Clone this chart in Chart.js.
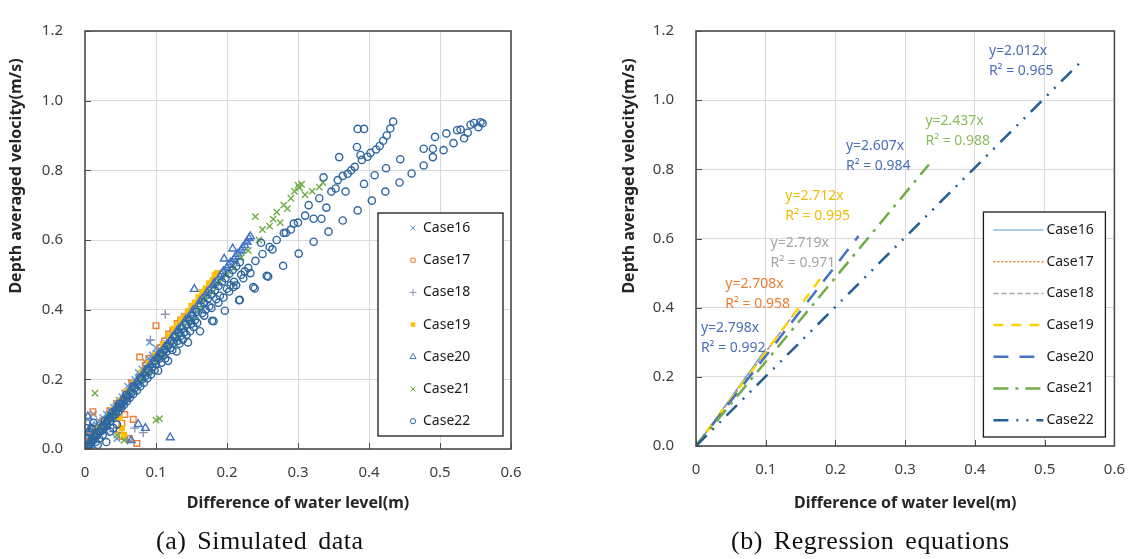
<!DOCTYPE html>
<html>
<head>
<meta charset="utf-8">
<script src="https://cdn.jsdelivr.net/npm/chart.js@4/dist/chart.umd.min.js"></script>
<style>
html, body { margin: 0; padding: 0; background: #fff; }
#wrap { position: relative; width: 1140px; height: 559px; overflow: hidden; }
.caja { position: absolute; top: 0; width: 570px; height: 559px; }
#cajaA { left: 0; }
#cajaB { left: 570px; }
.cap { position: absolute; top: 526px; font-family: "Liberation Serif", "DejaVu Serif", serif; font-size: 26px;
       letter-spacing: 0.5px; word-spacing: 4px; color: #111; white-space: nowrap; line-height: 30px; }
#capA { left: 156px; }
#capB { left: 731px; }
</style>
</head>
<body>
<div id="wrap">
  <div class="caja" id="cajaA"><canvas id="graficoA"></canvas></div>
  <div class="caja" id="cajaB"><canvas id="graficoB"></canvas></div>
  <div class="cap" id="capA">(a) Simulated data</div>
  <div class="cap" id="capB">(b) Regression equations</div>
</div>
<script>
'use strict';

// Series / ejes
const caseNames = ['Case16', 'Case17', 'Case18', 'Case19', 'Case20', 'Case21', 'Case22'];
const xTicks = [0, 0.1, 0.2, 0.3, 0.4, 0.5, 0.6];
const yTicks = [0.0, 0.2, 0.4, 0.6, 0.8, 1.0, 1.2];
const xTitle = 'Difference of water level(m)';
const yTitle = 'Depth averaged velocity(m/s)';

// (a) Simulated data  [x, y]
const case16 = [[0.002,0.01],[0.004,0.03],[0.006,0.02],[0.008,0.05],[0.01,0.03],[0.012,0.06],[0.014,0.04],[0.016,0.07],
    [0.018,0.05],[0.02,0.08],[0.022,0.06],[0.025,0.09],[0.028,0.07],[0.03,0.1],[0.033,0.09],[0.036,0.11],[0.04,0.12],
    [0.044,0.13],[0.048,0.14],[0.052,0.15],[0.056,0.16],[0.06,0.18],[0.065,0.19],[0.07,0.2],[0.075,0.22],[0.08,0.23],
    [0.085,0.25],[0.09,0.26],[0.091,0.306],[0.095,0.27],[0.1,0.29],[0.004,0.085],[0.012,0.1],[0.03,0.05],[0.045,0.03],
    [0.015,0.055],[0.024,0.075],[0.034,0.1],[0.042,0.115],[0.05,0.135],[0.058,0.155],[0.067,0.175],[0.078,0.205],
    [0.088,0.23],[0.105,0.28],[0.11,0.3],[0.12,0.32],[0.13,0.345],[0.14,0.37],[0.15,0.395],[0.16,0.42],[0.17,0.44],
    [0.18,0.465],[0.19,0.49],[0.2,0.515],[0.21,0.54],[0.22,0.565],[0.23,0.595],[0.005,0.05],[0.01,0.07],[0.003,0.04]];
const case17 = [[0.005,0.02],[0.01,0.05],[0.011,0.107],[0.018,0.06],[0.025,0.08],[0.035,0.11],[0.045,0.13],[0.052,0.074],
    [0.052,0.036],[0.056,0.099],[0.058,0.16],[0.066,0.19],[0.068,0.085],[0.073,0.016],[0.077,0.264],[0.085,0.24],
    [0.09,0.26],[0.1,0.354],[0.105,0.29],[0.112,0.31],[0.118,0.33],[0.124,0.34],[0.13,0.36],[0.135,0.37],[0.14,0.38],
    [0.048,0.055],[0.062,0.03]];
const case18 = [[0.004,0.015],[0.008,0.03],[0.015,0.05],[0.022,0.07],[0.03,0.09],[0.038,0.1],[0.045,0.13],[0.05,0.14],
    [0.058,0.16],[0.065,0.18],[0.072,0.2],[0.08,0.22],[0.088,0.24],[0.092,0.313],[0.096,0.27],[0.103,0.28],[0.11,0.3],
    [0.113,0.387],[0.118,0.32],[0.125,0.34],[0.082,0.047],[0.06,0.025],[0.04,0.05],[0.07,0.06]];
const case19 = [[0.01,0.03],[0.02,0.06],[0.03,0.08],[0.04,0.11],[0.05,0.14],[0.052,0.06],[0.06,0.165],[0.07,0.19],
    [0.08,0.22],[0.09,0.245],[0.1,0.27],[0.11,0.3],[0.118,0.325],[0.125,0.345],[0.13,0.355],[0.135,0.37],[0.14,0.38],
    [0.145,0.395],[0.15,0.41],[0.155,0.42],[0.16,0.435],[0.165,0.45],[0.17,0.46],[0.175,0.475],[0.18,0.485],
    [0.183,0.5],[0.186,0.505],[0.048,0.09],[0.055,0.04]];
const case20 = [[0.004,0.093],[0.005,0.01],[0.01,0.025],[0.015,0.04],[0.02,0.055],[0.025,0.065],[0.03,0.08],[0.035,0.09],
    [0.04,0.105],[0.045,0.12],[0.05,0.13],[0.055,0.145],[0.06,0.155],[0.065,0.17],[0.07,0.185],[0.075,0.071],[0.08,0.21],
    [0.085,0.22],[0.09,0.235],[0.095,0.25],[0.1,0.26],[0.105,0.275],[0.11,0.285],[0.115,0.3],[0.12,0.033],[0.12,0.31],
    [0.125,0.325],[0.13,0.34],[0.135,0.35],[0.14,0.365],[0.145,0.375],[0.15,0.39],[0.154,0.459],[0.155,0.4],[0.16,0.415],
    [0.165,0.43],[0.17,0.44],[0.175,0.455],[0.18,0.47],[0.185,0.48],[0.19,0.495],[0.195,0.51],[0.196,0.546],[0.2,0.52],
    [0.205,0.535],[0.208,0.575],[0.21,0.545],[0.215,0.56],[0.22,0.57],[0.225,0.585],[0.228,0.595],[0.231,0.605],
    [0.233,0.61],[0.085,0.06],[0.065,0.025],
    [0.012,0.035],[0.022,0.062],[0.032,0.088],[0.042,0.114],[0.052,0.14],[0.062,0.165],[0.072,0.19],[0.082,0.216],
    [0.092,0.242],[0.102,0.268],[0.112,0.292],[0.122,0.318],[0.132,0.345],[0.142,0.372],[0.152,0.398],[0.162,0.424],
    [0.172,0.45],[0.182,0.476],[0.192,0.502],[0.202,0.528],[0.212,0.552],[0.222,0.578]];
const case21 = [[0.003,0.01],[0.008,0.02],[0.014,0.16],[0.015,0.04],[0.02,0.05],[0.028,0.07],[0.035,0.09],[0.04,0.1],
    [0.045,0.04],[0.05,0.12],[0.055,0.025],[0.06,0.15],[0.07,0.17],[0.08,0.2],[0.09,0.22],[0.1,0.083],[0.105,0.087],
    [0.1,0.25],[0.11,0.27],[0.12,0.3],[0.13,0.32],[0.14,0.35],[0.15,0.37],[0.16,0.4],[0.17,0.43],[0.18,0.45],[0.19,0.48],
    [0.2,0.5],[0.21,0.52],[0.22,0.55],[0.23,0.57],[0.24,0.667],[0.245,0.6],[0.25,0.63],[0.26,0.64],[0.265,0.66],
    [0.27,0.68],[0.275,0.65],[0.28,0.7],[0.285,0.69],[0.29,0.72],[0.295,0.74],[0.3,0.757],[0.302,0.75],[0.305,0.76],
    [0.31,0.73],[0.32,0.74],[0.33,0.752],[0.335,0.765]];
const case22 = [[0.002,0.005],[0.005,0.012],[0.008,0.02],[0.01,0.03],[0.013,0.035],[0.016,0.045],[0.02,0.05],[0.023,0.06],
    [0.026,0.065],[0.03,0.075],[0.033,0.085],[0.036,0.09],[0.04,0.1],[0.044,0.11],[0.048,0.12],[0.052,0.13],[0.056,0.14],
    [0.06,0.15],[0.065,0.16],[0.07,0.175],[0.075,0.185],[0.08,0.2],[0.085,0.21],[0.09,0.225],[0.095,0.235],[0.1,0.245],
    [0.103,0.225],[0.105,0.26],[0.11,0.27],[0.115,0.28],[0.117,0.253],[0.12,0.29],[0.125,0.305],[0.129,0.28],[0.13,0.31],
    [0.135,0.325],[0.14,0.335],[0.145,0.306],[0.15,0.36],[0.155,0.37],[0.162,0.338],[0.165,0.39],[0.17,0.4],[0.175,0.41],
    [0.179,0.368],[0.181,0.367],[0.185,0.43],[0.19,0.44],[0.197,0.397],[0.2,0.46],[0.205,0.47],[0.209,0.465],[0.21,0.48],
    [0.217,0.427],[0.218,0.428],[0.22,0.5],[0.225,0.51],[0.23,0.52],[0.237,0.465],[0.239,0.461],[0.24,0.54],[0.248,0.592],
    [0.25,0.56],[0.256,0.497],[0.258,0.495],[0.26,0.58],[0.264,0.573],[0.27,0.6],[0.279,0.526],[0.28,0.62],[0.283,0.621],
    [0.29,0.63],[0.294,0.647],[0.3,0.65],[0.301,0.561],[0.31,0.67],[0.315,0.7],[0.322,0.595],[0.322,0.661],[0.33,0.72],
    [0.333,0.661],[0.336,0.78],[0.34,0.693],[0.343,0.624],[0.347,0.739],[0.353,0.748],[0.356,0.772],[0.358,0.838],
    [0.363,0.656],[0.363,0.784],[0.367,0.739],[0.37,0.79],[0.375,0.8],[0.38,0.81],[0.383,0.867],[0.384,0.685],
    [0.384,0.919],[0.388,0.844],[0.39,0.83],[0.393,0.919],[0.393,0.761],[0.398,0.839],[0.402,0.85],[0.404,0.713],
    [0.408,0.786],[0.41,0.86],[0.415,0.87],[0.42,0.885],[0.423,0.739],[0.424,0.806],[0.425,0.9],[0.43,0.92],[0.434,0.94],
    [0.443,0.765],[0.444,0.832],[0.46,0.791],[0.477,0.814],[0.477,0.862],[0.49,0.862],[0.49,0.838],[0.493,0.896],
    [0.505,0.858],[0.509,0.906],[0.519,0.878],[0.524,0.915],[0.529,0.917],[0.534,0.892],[0.539,0.908],[0.543,0.931],
    [0.548,0.936],[0.554,0.924],[0.557,0.938],[0.56,0.935],
    [0.004,0.008],[0.007,0.015],[0.011,0.024],[0.015,0.035],[0.018,0.042],[0.022,0.052],[0.027,0.063],[0.031,0.072],
    [0.035,0.08],[0.039,0.092],[0.043,0.1],[0.047,0.108],[0.051,0.118],[0.055,0.127],[0.059,0.137],[0.063,0.147],
    [0.068,0.158],[0.073,0.168],[0.078,0.18],[0.083,0.19],[0.088,0.203],[0.093,0.214],[0.098,0.226],[0.108,0.248],
    [0.113,0.26],[0.123,0.284],[0.133,0.302],[0.138,0.314],[0.143,0.328],[0.148,0.338],[0.153,0.35],[0.158,0.362],
    [0.168,0.383],[0.178,0.405],[0.188,0.42],[0.195,0.435],[0.203,0.452],[0.213,0.47],[0.223,0.49],[0.233,0.505],
    [0.003,0.03],[0.006,0.05],[0.009,0.06],[0.012,0.075],[0.002,0.06],[0.015,0.02],[0.02,0.03],[0.025,0.04],[0.03,0.02],
    [0.035,0.05],[0.04,0.06],[0.045,0.07],[0.008,0.008],[0.018,0.012],
    [0.102,0.262],[0.107,0.272],[0.112,0.285],[0.117,0.296],[0.122,0.31],[0.127,0.322],[0.132,0.334],[0.137,0.346],
    [0.142,0.358],[0.147,0.37],[0.152,0.382],[0.157,0.394],[0.163,0.41],[0.168,0.42],[0.173,0.432],[0.178,0.445],
    [0.183,0.456],[0.188,0.468],[0.193,0.48],[0.198,0.49],[0.203,0.503],[0.208,0.514],[0.213,0.525],[0.218,0.536],
    [0.028,0.08],[0.038,0.105],[0.048,0.13],[0.058,0.155],[0.068,0.18],[0.078,0.205],[0.088,0.23],[0.098,0.252]];
const puntos = [case16, case17, case18, case19, case20, case21, case22];

// (b) Regression equations
const slopes = [2.798, 2.708, 2.719, 2.712, 2.607, 2.437, 2.012];
const rSquared = [0.992, 0.958, 0.971, 0.995, 0.984, 0.988, 0.965];
const lineEndX = [0.1, 0.135, 0.142, 0.182, 0.233, 0.334, 0.554];
const lineEndY = [0.28, 0.366, 0.386, 0.494, 0.607, 0.814, 1.115];
const labelX = [0.007, 0.042, 0.107, 0.128, 0.215, 0.329, 0.42];
const labelY = [0.341, 0.468, 0.586, 0.724, 0.867, 0.941, 1.142];

// estilos
const markerColor = ['#5b9bd5', '#ed7d31', '#8f93b5', '#ffc000', '#4472c4', '#70ad47', '#2e66a0'];
const markerFill = ['rgba(0,0,0,0)', 'rgba(0,0,0,0)', 'rgba(0,0,0,0)', '#ffc000', 'rgba(0,0,0,0)', 'rgba(0,0,0,0)', 'rgba(0,0,0,0)'];
const markerStyle = ['crossRot', 'rect', 'cross', 'rect', 'triangle', 'crossRot', 'circle'];
const markerSize = [4.5, 4, 4.5, 3.5, 4.5, 4.5, 3.6];
const lineColor = ['#5b9bd5', '#ed7d31', '#a5a5a5', '#ffd200', '#4472c4', '#70ad47', '#255e91'];
const lineWidth = [1.2, 1.5, 1.5, 2.5, 2.5, 2.5, 2.5];
const lineDash = [[], [2, 2], [5, 3], [10, 8], [15, 11], [15, 7, 3, 7], [15, 8, 2, 8, 2, 8]];
const labelColor = ['#4a70b8', '#ed7d31', '#a5a5a5', '#f0bc00', '#4a70b8', '#8cbb5e', '#4a70b8'];

const fuente = '"Noto Sans", "DejaVu Sans", sans-serif';
Chart.defaults.font.family = fuente;

// marco del area de trazado, con marcas hacia dentro
const marcoPlugin = {
    id: 'marco',
    afterDatasetsDraw(chart) {
        const { ctx, chartArea: a, scales } = chart;
        ctx.save();
        ctx.strokeStyle = '#4d4d4d';
        ctx.lineWidth = 1;
        ctx.beginPath();
        xTicks.forEach(v => {
            let px = Math.round(scales.x.getPixelForValue(v)) + 0.5;
            ctx.moveTo(px, a.bottom);
            ctx.lineTo(px, a.bottom - 6);
        });
        yTicks.forEach(v => {
            let py = Math.round(scales.y.getPixelForValue(v)) + 0.5;
            ctx.moveTo(a.left, py);
            ctx.lineTo(a.left + 6, py);
        });
        ctx.stroke();
        ctx.lineWidth = 1.6;
        ctx.strokeRect(a.left, a.top, a.right - a.left, a.bottom - a.top);
        ctx.restore();
    }
};

let crearTituloY = (x, y) => ({
    id: 'tituloY',
    afterDraw(chart) {
        const ctx = chart.ctx;
        ctx.save();
        ctx.translate(x, y);
        ctx.rotate(-Math.PI / 2);
        ctx.font = 'bold 16px ' + fuente;
        ctx.fillStyle = '#262626';
        ctx.textAlign = 'center';
        ctx.textBaseline = 'middle';
        ctx.fillText(yTitle, 0, 0);
        ctx.restore();
    }
});

let crearLeyenda = (modo, box) => ({
    id: 'leyenda',
    afterDraw(chart) {
        const { ctx, chartArea: a } = chart;
        let left = a.right - box.right - box.width;
        let top = a.bottom - box.bottom - box.height;
        ctx.save();
        ctx.fillStyle = '#fff';
        ctx.fillRect(left, top, box.width, box.height);
        ctx.strokeStyle = '#1a1a1a';
        ctx.lineWidth = 1.3;
        ctx.strokeRect(left, top, box.width, box.height);
        ctx.font = '14px ' + fuente;
        ctx.textBaseline = 'middle';
        ctx.textAlign = 'left';
        chart.data.datasets.forEach((ds, i) => {
            let y = top + box.first + i * box.step;
            if (modo === 'marker') {
                ctx.strokeStyle = ds.borderColor;
                ctx.fillStyle = ds.backgroundColor;
                ctx.lineWidth = 1;
                Chart.helpers.drawPoint(ctx, { pointStyle: ds.pointStyle, radius: ds.pointRadius - 1, borderWidth: 1, rotation: 0 }, left + box.mark, y);
            } else {
                ctx.strokeStyle = ds.borderColor;
                ctx.lineWidth = ds.borderWidth;
                ctx.setLineDash(ds.borderDash);
                ctx.beginPath();
                ctx.moveTo(left + box.l0, y);
                ctx.lineTo(left + box.l1, y);
                ctx.stroke();
                ctx.setLineDash([]);
            }
            ctx.fillStyle = '#1a1a1a';
            ctx.fillText(ds.label, left + box.text, y);
        });
        ctx.restore();
    }
});

const etiquetasPlugin = {
    id: 'etiquetas',
    afterDatasetsDraw(chart) {
        const { ctx, scales } = chart;
        ctx.save();
        ctx.font = '14px ' + fuente;
        ctx.textAlign = 'left';
        ctx.textBaseline = 'middle';
        for (let i = 0; i < slopes.length; i++) {
            let px = scales.x.getPixelForValue(labelX[i]);
            let py = scales.y.getPixelForValue(labelY[i]);
            ctx.fillStyle = labelColor[i];
            ctx.fillText('y=' + slopes[i].toFixed(3) + 'x', px, py);
            ctx.fillText('R\u00B2 = ' + rSquared[i].toFixed(3), px, py + 20);
        }
        ctx.restore();
    }
};

let escalas = (anchoY, altoX) => ({
    x: {
        type: 'linear',
        min: xTicks[0],
        max: xTicks[xTicks.length - 1],
        afterBuildTicks: s => { s.ticks = xTicks.map(v => ({ value: v })); },
        afterFit: s => { s.height = altoX; },
        ticks: { padding: 15, color: '#404040', font: { size: 15 }, callback: v => (v === 0 ? '0' : v.toFixed(1)) },
        grid: { color: '#d9d9d9', drawTicks: false },
        border: { display: false },
        title: { display: true, text: xTitle, color: '#262626', font: { size: 16, weight: 'bold' }, padding: { top: 0, bottom: 46 } }
    },
    y: {
        type: 'linear',
        min: yTicks[0],
        max: yTicks[yTicks.length - 1],
        afterBuildTicks: s => { s.ticks = yTicks.map(v => ({ value: v })); },
        afterFit: s => { s.width = anchoY; },
        ticks: { padding: 22, color: '#404040', font: { size: 15 }, callback: v => v.toFixed(1) },
        grid: { color: '#d9d9d9', drawTicks: false },
        border: { display: false }
    }
});

// Grafico (a)
const datosA = caseNames.map((n, i) => ({
    label: n,
    data: puntos[i].map(p => ({ x: p[0], y: p[1] })),
    pointStyle: markerStyle[i],
    pointRadius: markerSize[i],
    pointBorderWidth: 1.4,
    borderColor: markerColor[i],
    backgroundColor: markerFill[i],
    order: 6 - i
}));

new Chart(document.getElementById('graficoA'), {
    type: 'scatter',
    data: { datasets: datosA },
    options: {
        responsive: true,
        maintainAspectRatio: false,
        animation: false,
        layout: { padding: { top: 12, right: 59, left: 0, bottom: 0 } },
        plugins: { legend: { display: false }, tooltip: { enabled: false } },
        scales: escalas(85, 110)
    },
    plugins: [marcoPlugin, crearTituloY(16, 176),
        crearLeyenda('marker', { right: 8, bottom: 13, width: 125, height: 223, first: 15, step: 32.2, mark: 35, text: 45 })]
});

// Grafico (b)
const datosB = caseNames.map((n, i) => ({
    label: n,
    data: [{ x: 0, y: 0 }, { x: lineEndX[i], y: lineEndY[i] }],
    showLine: true,
    pointRadius: 0,
    borderColor: lineColor[i],
    backgroundColor: lineColor[i],
    borderWidth: lineWidth[i],
    borderDash: lineDash[i],
    fill: false,
    order: 6 - i
}));

new Chart(document.getElementById('graficoB'), {
    type: 'scatter',
    data: { datasets: datosB },
    options: {
        responsive: true,
        maintainAspectRatio: false,
        animation: false,
        layout: { padding: { top: 11, right: 17, left: 0, bottom: 0 } },
        plugins: { legend: { display: false }, tooltip: { enabled: false } },
        scales: escalas(126, 113)
    },
    plugins: [etiquetasPlugin, marcoPlugin, crearTituloY(59, 176),
        crearLeyenda('line', { right: 9, bottom: 9, width: 122, height: 225, first: 18, step: 31.7, l0: 10, l1: 60, text: 63 })]
});
</script>
</body>
</html>
